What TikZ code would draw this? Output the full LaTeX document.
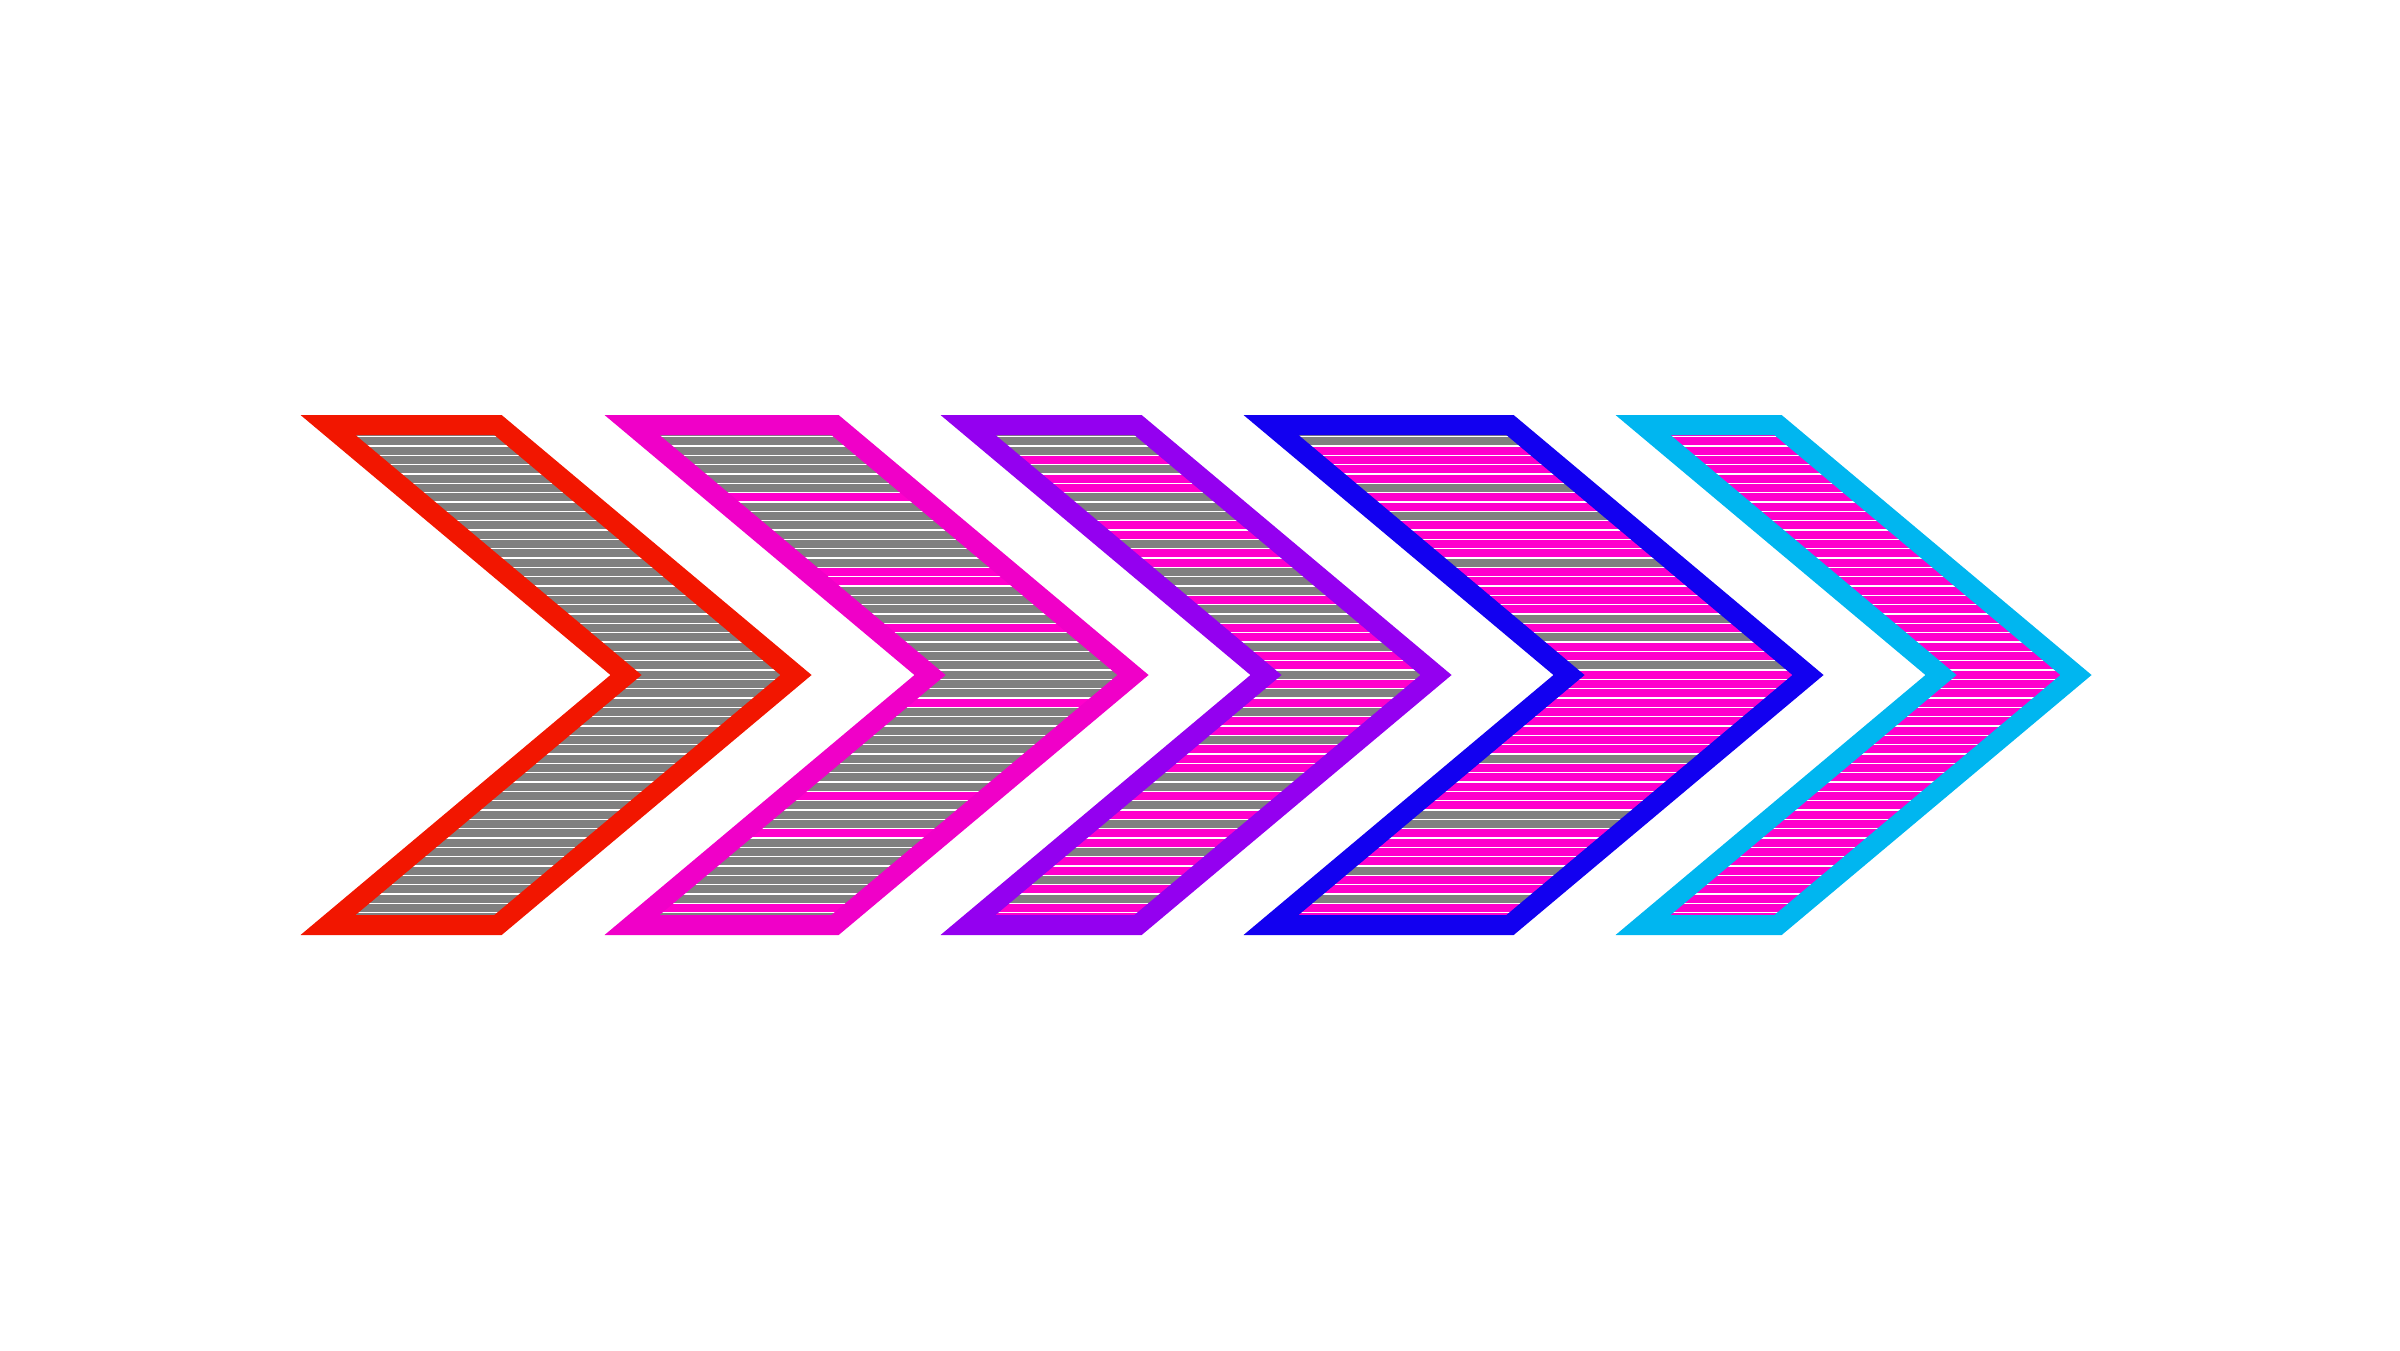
\documentclass[tikz,border=0pt]{standalone}
\usetikzlibrary{backgrounds}

\definecolor{chevred}{RGB}{242,22,0}
\definecolor{chevmagenta}{RGB}{240,0,200}
\definecolor{chevpurple}{RGB}{148,0,240}
\definecolor{chevblue}{RGB}{18,0,240}
\definecolor{chevcyan}{RGB}{0,182,240}
\definecolor{stripepink}{RGB}{255,0,204}
\definecolor{stripegray}{RGB}{128,128,128}

\tikzset{
	chevron/.style={line width=0.2cm, miter limit=10},
	graystripe/.style={fill=stripegray},
	pinkstripe/.style={fill=stripepink}
}

\begin{document}
\begin{tikzpicture}[x=0.01cm, y=-0.01cm]
		\useasboundingbox (0,0) rectangle (2400,1350);
		
		\begin{scope}
		\clip (328,425) -- (498,425) -- (796,675) -- (498,925) -- (328,925) -- (626,675) -- cycle;
		\foreach \n in {0,...,52}
		\fill [graystripe] (320,{428+9.33*\n}) rectangle (810,{436+9.33*\n});
		\end{scope}
		\draw [chevron, draw=chevred]
		(328,425) -- (498,425) -- (796,675) -- (498,925) -- (328,925) -- (626,675) -- cycle;
		
		\begin{scope}
		\clip (632,425) -- (835,425) -- (1133,675) -- (835,925) -- (632,925) -- (930,675) -- cycle;
		\foreach \n in {0,...,52}
		\fill [graystripe] (620,{428+9.33*\n}) rectangle (1150,{436+9.33*\n});
		\foreach \n in {7,15,16,21,29,39,43,51}
		\fill [pinkstripe] (620,{428+9.33*\n}) rectangle (1150,{436+9.33*\n});
		\end{scope}
		\draw [chevron, draw=chevmagenta]
		(632,425) -- (835,425) -- (1133,675) -- (835,925) -- (632,925) -- (930,675) -- cycle;
		
		\begin{scope}
		\clip (968,425) -- (1138,425) -- (1436,675) -- (1138,925) -- (968,925) -- (1266,675) -- cycle;
		\foreach \n in {0,...,52}
		\fill [graystripe] (960,{428+9.33*\n}) rectangle (1450,{436+9.33*\n});
		\foreach \n in {3,5,6,10,11,13,14,18,21,22,24,25,27,29,31,32,34,35,36,39,41,43,44,46,47,49,51,52}
		\fill [pinkstripe] (960,{428+9.33*\n}) rectangle (1450,{436+9.33*\n});
		\end{scope}
		\draw [chevron, draw=chevpurple]
		(968,425) -- (1138,425) -- (1436,675) -- (1138,925) -- (968,925) -- (1266,675) -- cycle;
		
		\begin{scope}
		\clip (1271,425) -- (1510,425) -- (1808,675) -- (1510,925) -- (1271,925) -- (1569,675) -- cycle;
		\foreach \n in {0,...,52}
		\fill [pinkstripe] (1260,{428+9.33*\n}) rectangle (1820,{436+9.33*\n});
		\foreach \n in {0,1,6,9,14,20,22,25,35,41,42,47,50}
		\fill [graystripe] (1260,{428+9.33*\n}) rectangle (1820,{436+9.33*\n});
		\end{scope}
		\draw [chevron, draw=chevblue]
		(1271,425) -- (1510,425) -- (1808,675) -- (1510,925) -- (1271,925) -- (1569,675) -- cycle;
		
		\begin{scope}
		\clip (1643,425) -- (1778,425) -- (2076,675) -- (1778,925) -- (1643,925) -- (1941,675) -- cycle;
		\foreach \n in {0,...,52}
		\fill [pinkstripe] (1630,{428+9.33*\n}) rectangle (2090,{436+9.33*\n});
		\end{scope}
		\draw [chevron, draw=chevcyan]
		(1643,425) -- (1778,425) -- (2076,675) -- (1778,925) -- (1643,925) -- (1941,675) -- cycle;
\end{tikzpicture}
\end{document}
